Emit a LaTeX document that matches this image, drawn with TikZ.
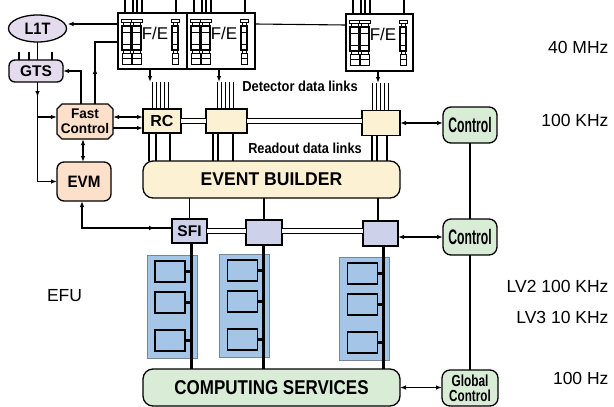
\documentclass[tikz,border=0pt]{standalone}
\usepackage{fontspec}
\setmainfont{Liberation Sans}
\usepackage{graphicx}
\usetikzlibrary{shapes.geometric,arrows.meta,decorations.markings}

\definecolor{lav}{HTML}{E4DBEC}
\definecolor{peach}{HTML}{FCE0CA}
\definecolor{cream}{HTML}{FDF1D4}
\definecolor{periw}{HTML}{CDD2EA}
\definecolor{mint}{HTML}{D8ECD6}
\definecolor{efu}{HTML}{A5C5E6}
\definecolor{efuedge}{HTML}{75859C}

% bold label: size, baselineskip
\newcommand\bsz[2]{\fontsize{#1}{#2}\selectfont\bfseries}
% squeeze text horizontally
\newcommand\sq[2]{\scalebox{#1}[1]{#2}}

\tikzset{
  ln/.style={line width=1.1pt},
  tipL/.tip={Latex[length=6pt,width=4.5pt]},
  arr/.style={ln,-tipL},
  darr/.style={ln,tipL-tipL},
  midtip/.style={postaction={decorate,decoration={markings,
      mark=at position #1 with {\arrow{tipL}}}}},
  blk/.style={draw,line width=1.3pt,inner sep=0pt,outer sep=0pt},
  dbl/.style={draw,line width=1pt,double=white,double distance=4pt},
  bus/.style={line width=3pt},
  stub/.style={line width=2.4pt},
  efuo/.style={draw=efuedge,fill=efu,line width=1pt,minimum width=50pt,
      minimum height=103pt,inner sep=0pt},
  efui/.style={draw,fill=efu,line width=1.3pt,minimum width=30pt,
      minimum height=21pt,inner sep=0pt},
  fepart/.style={draw,fill=white,line width=0.6pt},
  rlbl/.style={font=\fontsize{17.5}{20}\selectfont},
  % front-end module internals, origin at the module's top-left corner
  fe inner/.pic={
    \foreach \cx/\w in {4/9,14/9,54/6}{
      \draw[fepart] (\cx-1,6) rectangle (\cx+\w+1,9);
      \draw[fepart] (\cx+1,9) rectangle (\cx+\w-1,13);
      \draw[fepart,line width=1.4pt] (\cx,13) rectangle (\cx+\w,37);
      \draw[line width=0.6pt] (\cx,19) -- (\cx+\w,19) (\cx,31) -- (\cx+\w,31);
      \draw[fepart] (\cx+1,37) rectangle (\cx+\w-1,40);
      \draw[fepart] (\cx,40) rectangle (\cx+\w,45);
      \draw[fepart] (\cx,45) rectangle (\cx+\w,51);
    }
  }
}

\begin{document}
\begin{tikzpicture}[x=1pt,y=-1pt]
\useasboundingbox (0,0) rectangle (614,407);
\fill[white] (0,0) rectangle (614,407);

% ---------- trigger side ----------
\node[blk,ellipse,fill=lav,minimum width=58pt,minimum height=27pt] (l1t) at (37.5,28.5)
  {\bsz{16.5}{18}\sq{0.88}{L1T}};
\node[blk,fill=lav,rounded corners=6pt,minimum width=54pt,minimum height=22pt] (gts) at (36,71)
  {\bsz{15.5}{17}\sq{1}{GTS}};
\foreach \dx in {-17,-7,16}
  \draw[ln] ([xshift=\dx pt]gts.north) -- ++(0,-8);

% fast control: box with cut corners
\filldraw[fill=peach,line width=1.3pt]
  (62,104) -- (108,104) -- (113,109) -- (113,134) -- (108,139)
  -- (62,139) -- (57,134) -- (57,109) -- cycle;
\node[inner sep=0pt,minimum width=56pt,minimum height=35pt,
      align=center,font=\bsz{14}{15}] (fc) at (85,121.5)
  {\sq{0.97}{Fast}\\\sq{0.97}{Control}};
\node[blk,fill=peach,rounded corners=7pt,minimum width=54pt,minimum height=39pt] (evm) at (84,181.5)
  {\bsz{16.5}{18}\sq{0.92}{EVM}};

% ---------- front-end modules ----------
\node[blk,minimum width=69pt,minimum height=56pt,anchor=north west] (fe1) at (118,13) {};
\node[blk,minimum width=68pt,minimum height=56pt,anchor=north west] (fe2) at (187,13) {};
\node[blk,minimum width=67pt,minimum height=57pt,anchor=north west] (fe3) at (346,14) {};
\foreach \b in {fe1,fe2,fe3}{
  \pic at (\b.north west) {fe inner};
  \node[font=\fontsize{17}{18}\selectfont] at ([xshift=37pt,yshift=-20pt]\b.north west) {F/E};
  \foreach \dx in {7,15,19,24,58}
    \draw[ln] ([xshift=\dx pt]\b.north west) -- ++(0,-15);
}

% ---------- readout units ----------
\node[blk,fill=cream,minimum width=38pt,minimum height=24pt] (rc) at (162,121)
  {\bsz{16}{18}\sq{1}{RC}};
\node[blk,fill=cream,minimum width=41pt,minimum height=24pt] (ub2) at (226.5,121) {};
\node[blk,fill=cream,minimum width=38pt,minimum height=25pt] (ub3) at (381,123) {};

\node[blk,fill=cream,rounded corners=10pt,minimum width=257pt,minimum height=37pt] (eb) at (271.5,179.5)
  {\bsz{18.5}{20}\sq{0.95}{EVENT BUILDER}};

% ---------- switch farm interfaces ----------
\node[blk,fill=periw,minimum width=35pt,minimum height=24pt] (sfi) at (189.5,231)
  {\bsz{15.5}{17}\sq{1}{SFI}};
\node[blk,fill=periw,minimum width=36pt,minimum height=25pt] (lb2) at (264,232.5) {};
\node[blk,fill=periw,minimum width=35pt,minimum height=25pt] (lb3) at (380.5,233.5) {};

% ---------- controls ----------
\node[blk,fill=mint,rounded corners=8pt,minimum width=54pt,minimum height=36pt] (ctl1) at (470,125)
  {\bsz{21}{22}\sq{0.58}{Control}};
\node[blk,fill=mint,rounded corners=8pt,minimum width=54pt,minimum height=36pt] (ctl2) at (470,237)
  {\bsz{21}{22}\sq{0.58}{Control}};
\node[blk,fill=mint,rounded corners=8pt,minimum width=56pt,minimum height=36pt,
      align=center,font=\bsz{16}{15}] (gctl) at (470,388)
  {\sq{0.74}{Global}\\\sq{0.73}{Control}};

\node[blk,fill=mint,rounded corners=10pt,minimum width=257pt,minimum height=37pt] (cs) at (271.5,387.5)
  {\bsz{20}{22}\sq{0.85}{COMPUTING SERVICES}};

% ---------- event filter units ----------
\foreach \n/\cx/\cy in {1/172/306.5, 2/244.5/305.5, 3/364.5/308.5}{
  \node[efuo] (efu\n) at (\cx,\cy) {};
  \coordinate (bus\n) at ([xshift=19pt]efu\n.center);
}
\draw[bus] (bus1 |- sfi.south) -- (bus1 |- cs.north);
\draw[bus] (bus2 |- lb2.south) -- (bus2 |- cs.north);
\draw[bus] (bus3 |- lb3.south) -- (bus3 |- cs.north);
\foreach \n in {1,2,3}{
  \foreach \s/\dy in {a/-35,b/-4,c/34}{
    \node[efui] (efu\n\s) at ([xshift=-2pt,yshift=-\dy pt]efu\n.center) {};
    \draw[stub] (efu\n\s.east) -- (efu\n\s.east -| bus\n);
  }
}

% ---------- connectors: trigger and fast control ----------
\draw[ln] (l1t.south) -- (l1t.south |- gts.north);
\coordinate (trig) at ([yshift=-11pt]fe1.north west);
\draw[arr,shorten >=1pt] (trig) -- (trig -| l1t.east);
\draw[ln] ([yshift=-11pt]fe2.north east) -- ([yshift=-11pt]fe3.north west);

\coordinate (fcin) at ([yshift=4.5pt]fc.west);
\draw[arr,midtip=15pt] (l1t.south |- gts.south) -- (l1t.south |- evm.west) -- (evm.west);
\draw[arr] (l1t.south |- fcin) -- (fcin);
\draw[arr] ([xshift=-4pt]fc.north) |- (gts.east);
\draw[ln,midtip=36pt] ([xshift=10pt]fc.north) |- ([yshift=-29pt]fe1.north west);
\draw[darr] ([yshift=4.5pt]fc.east) -- ([yshift=4pt]rc.west);
\draw[arr] ([yshift=-6.5pt]fc.east) -- ([yshift=-7pt]rc.west);
\draw[darr] ([xshift=-2pt]fc.south) -- ([xshift=-2pt]fc.south |- evm.north);
\draw[ln,tipL-,midtip=100pt]
  ([xshift=-2pt]evm.south) |- ([yshift=3pt]sfi.west);

% ---------- detector data links ----------
\draw[arr] ([xshift=32pt]fe1.south west) -- ++(0,13);
\draw[arr] ([xshift=32pt]fe2.south west) -- ++(0,13);
\draw[arr] ([xshift=32pt]fe3.south west) -- ++(0,12);
\foreach \dx in {-10,-6,-2,2,6}
  \draw[line width=0.9pt] ([xshift=\dx pt]rc.north) -- ++(0,-27);
\foreach \dx in {-9,-5,-1,3,7}{
  \draw[line width=0.9pt] ([xshift=\dx pt]ub2.north) -- ++(0,-27);
  \draw[line width=0.9pt] ([xshift=\dx pt]ub3.north) -- ++(0,-28);
}
\node at (300,86) {\bsz{14.5}{16}\sq{0.89}{Detector data links}};

% ---------- readout data links ----------
\foreach \b/\dx in {rc/-13,rc/-6,rc/8,ub2/-13.5,ub2/-8.5,ub2/6.5,ub3/-9,ub3/-4,ub3/6}
  \draw[ln] ([xshift=\dx pt]\b.south) -- ([xshift=\dx pt]\b.south |- eb.north);
\node at (305,148) {\bsz{14.5}{16}\sq{0.88}{Readout data links}};

\draw[dbl] (rc.east) -- (ub2.west);
\draw[dbl] (ub2.east) -- (ub2.east -| ub3.west);
\draw[dbl] (sfi.east) -- (sfi.east -| lb2.west);
\draw[dbl] (lb2.east |- sfi.east) -- (sfi.east -| lb3.west);

% ---------- event builder to farm interfaces ----------
\draw[ln] (sfi.north |- eb.south) -- (sfi.north);
\draw[ln] (lb2.north |- eb.south) -- (lb2.north);
\draw[ln] ([xshift=-2.5pt]lb3.north |- eb.south) -- ([xshift=-2.5pt]lb3.north);

% ---------- control chain ----------
\draw[darr] (ub3.east) -- (ub3.east -| ctl1.west);
\draw[darr] ([yshift=-3.5pt]lb3.east) -- ([yshift=-3.5pt]lb3.east -| ctl2.west);
\draw[darr] (cs.east) -- (cs.east -| gctl.west);
\draw[ln] (ctl1.south) -- (ctl2.north);
\draw[ln] (ctl2.south) -- (gctl.north);

% ---------- rates ----------
\node[rlbl,anchor=east] at (612,47) {40 MHz};
\node[rlbl,anchor=east] at (612,120) {100 KHz};
\node[rlbl,anchor=east] at (612,286.5) {LV2 100 KHz};
\node[rlbl,anchor=east] at (612,317) {LV3 10 KHz};
\node[rlbl,anchor=east] at (612,378) {100 Hz};
\node[rlbl] at (64.5,296) {EFU};
\end{tikzpicture}
\end{document}
